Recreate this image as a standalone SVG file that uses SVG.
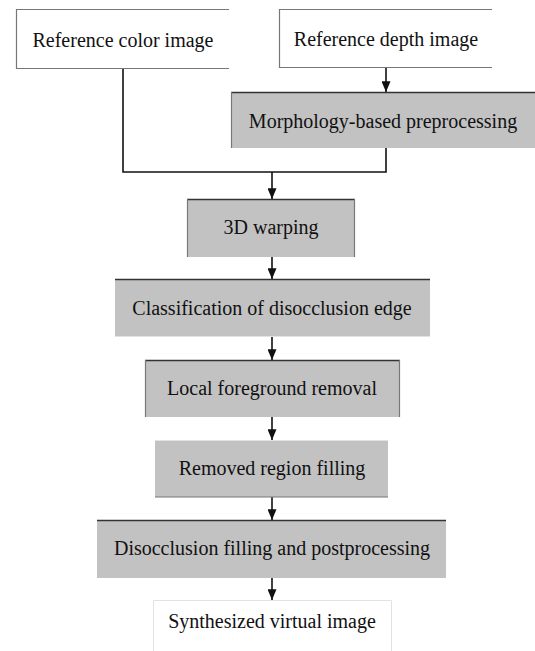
<svg xmlns="http://www.w3.org/2000/svg" width="535" height="651" viewBox="0 0 535 651">
<defs>
<style>
.t{font-family:"Liberation Serif","Times New Roman",serif;font-size:20px;fill:#111;text-anchor:middle}
.g{fill:#c2c2c2}
.top{stroke:#333;stroke-width:1.5;fill:none}
.side{stroke:#777;stroke-width:1.2;fill:none}
.lite{stroke:#e2e2e2;stroke-width:1;fill:none}
.c{stroke:#111;stroke-width:1.6;fill:none}
</style>
<marker id="ah" viewBox="0 0 12 10" refX="12" refY="5" markerWidth="11" markerHeight="9" markerUnits="userSpaceOnUse" orient="auto">
<path d="M0,0 L12,5 L0,10 z" fill="#111"/>
</marker>
</defs>
<rect width="535" height="651" fill="#fff"/>
<g id="connectors">
<line class="c" x1="386" y1="68" x2="386" y2="92" marker-end="url(#ah)"/>
<polyline class="c" points="123,68 123,172 386,172 386,148"/>
<line class="c" x1="272" y1="172" x2="272" y2="199" marker-end="url(#ah)"/>
<line class="c" x1="272" y1="257" x2="272" y2="279" marker-end="url(#ah)"/>
<line class="c" x1="272" y1="336" x2="272" y2="360" marker-end="url(#ah)"/>
<line class="c" x1="272" y1="417" x2="272" y2="440" marker-end="url(#ah)"/>
<line class="c" x1="272" y1="497" x2="272" y2="520" marker-end="url(#ah)"/>
<line class="c" x1="272" y1="578" x2="272" y2="600" marker-end="url(#ah)"/>
</g>
<g id="n1">
<path class="side" d="M229,9.5 H16.5 V68.5 H229"/>
<text class="t" x="123" y="47">Reference color image</text>
</g>
<g id="n2">
<path class="side" d="M492,9.5 H279.5 V67.5 H492"/>
<text class="t" x="386" y="46">Reference depth image</text>
</g>
<g id="n3">
<rect class="g" x="231" y="92" width="304" height="56"/>
<line class="top" x1="231" y1="92.5" x2="535" y2="92.5"/>
<line class="side" x1="231.5" y1="92" x2="231.5" y2="148"/>
<text class="t" x="383" y="128">Morphology-based preprocessing</text>
</g>
<g id="n4">
<rect class="g" x="187" y="199" width="168" height="58"/>
<line class="top" x1="187" y1="199.5" x2="355" y2="199.5"/>
<line class="side" x1="187.5" y1="199" x2="187.5" y2="257"/>
<line class="side" x1="354.5" y1="199" x2="354.5" y2="257"/>
<text class="t" x="271" y="234">3D warping</text>
</g>
<g id="n5">
<rect class="g" x="115" y="279" width="315" height="57"/>
<line class="top" x1="115" y1="279.5" x2="430" y2="279.5"/>
<line class="lite" x1="115" y1="336.5" x2="430" y2="336.5"/>
<text class="t" x="272" y="315">Classification of disocclusion edge</text>
</g>
<g id="n6">
<rect class="g" x="145" y="360" width="255" height="57"/>
<line class="top" x1="145" y1="360.5" x2="400" y2="360.5"/>
<line class="side" x1="145.5" y1="360" x2="145.5" y2="417"/>
<line class="side" x1="399.5" y1="360" x2="399.5" y2="417"/>
<text class="t" x="272" y="395">Local foreground removal</text>
</g>
<g id="n7">
<rect class="g" x="155" y="440" width="233" height="57"/>
<line class="lite" x1="155" y1="440.5" x2="388" y2="440.5"/>
<line class="side" x1="155" y1="497" x2="388" y2="497"/>
<text class="t" x="272" y="475">Removed region filling</text>
</g>
<g id="n8">
<rect class="g" x="97" y="520" width="349" height="58"/>
<line class="top" x1="97" y1="520.5" x2="446" y2="520.5"/>
<text class="t" x="272" y="555">Disocclusion filling and postprocessing</text>
</g>
<g id="n9">
<path class="lite" d="M153.5,651 V600.5 H391.5 V651"/>
<text class="t" x="272" y="628">Synthesized virtual image</text>
</g>
</svg>
